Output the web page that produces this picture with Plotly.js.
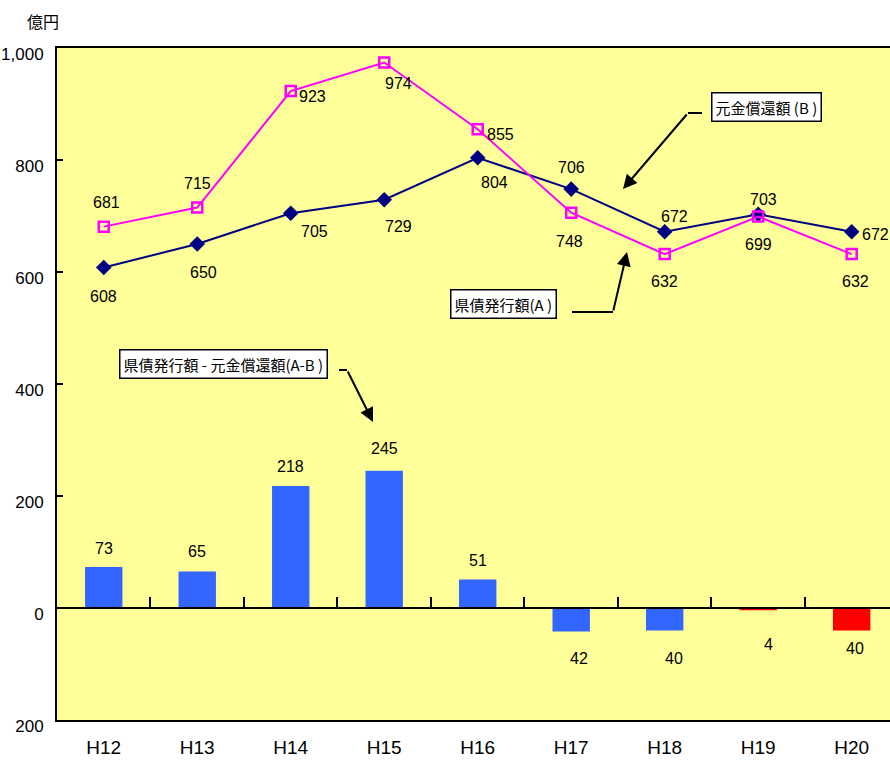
<!DOCTYPE html>
<html>
<head>
<meta charset="utf-8">
<script src="https://cdn.plot.ly/plotly-3.0.1.min.js"></script>
<style>html,body{margin:0;padding:0;background:#fff;}#chart{width:890px;height:761px;}</style>
</head>
<body>
<div id="chart"></div>
<script>
// ---- data ----
const categories = ['H12','H13','H14','H15','H16','H17','H18','H19','H20'];
const issuance   = [681, 715, 923, 974, 855, 706, 632, 699, 632];   // 県債発行額(A)
const repayment  = [608, 650, 705, 729, 804, 748, 672, 703, 672];   // 元金償還額(B)
const difference = [73, 65, 218, 245, 51, -42, -40, -4, -40];       // A-B
const yTickVals  = [-200, 0, 200, 400, 600, 800, 1000];
const yTickText  = ['200', '0', '200', '400', '600', '800', '1,000'];
const unitLabel  = '億円';
const labelA     = '県債発行額(A )';
const labelB     = '元金償還額 (B )';
const labelDiff  = '県債発行額 - 元金償還額(A-B )';

// ---- styles / label placement (pixel offsets) ----
const NUMFONT = '"Liberation Sans", Arial, sans-serif';
const CJKFONT = '"Noto Sans CJK JP", "Noto Sans", sans-serif';
const blue = '#3366FF', red = '#FF0000', navy = '#000080', pink = '#FF00FF';
const barColors = [blue, blue, blue, blue, blue, blue, blue, red, red];
const offA = [[3,24],[0,24],[22,-5],[14,-21],[23,-5],[0,45],[0,-27],[0,-28],[4,-27]];
const offB = [[0,-29],[6,-28],[24,-18],[14,-27],[17,-25],[-2,-52],[10,15],[5,15],[24,-3]];
const offD = [[0,19],[0,20],[0,19],[0,22],[0,19],[8,-27],[9,-28],[10,-34],[3,-18]];

// plot area in px (for callout placement)
const L = 57, R = 890, T = 48, B = 720;
const px = x => (x - L) / (R - L);
const py = y => (B - y) / (B - T);

const traces = [
  {
    type: 'bar', x: categories, y: difference, xaxis: 'x2', yaxis: 'y',
    marker: {color: barColors, line: {width: 0}}, width: 0.40,
    hoverinfo: 'x+y', showlegend: false
  },
  {
    type: 'scatter', mode: 'lines+markers', x: categories, y: repayment,
    line: {color: navy, width: 2},
    marker: {symbol: 'diamond', size: 12, color: navy},
    showlegend: false
  },
  {
    type: 'scatter', mode: 'lines+markers', x: categories, y: issuance,
    line: {color: pink, width: 2},
    marker: {symbol: 'square-open', size: 10, color: pink, line: {width: 2.5, color: pink}},
    showlegend: false
  }
];

const annotations = [];
const numFont = {family: NUMFONT, size: 16, color: '#000'};
const pushLabel = (cat, v, txt, off) => annotations.push({
  x: cat, y: v, xref: 'x', yref: 'y', text: txt, showarrow: false,
  xanchor: 'center', yanchor: 'middle', xshift: off[0], yshift: off[1], font: numFont
});
issuance.forEach((v, i) => pushLabel(categories[i], v, String(v), offA[i]));
repayment.forEach((v, i) => pushLabel(categories[i], v, String(v), offB[i]));
difference.forEach((v, i) => pushLabel(categories[i], v, String(Math.abs(v)), offD[i]));

// unit
annotations.push({xref: 'paper', yref: 'paper', x: px(43), y: py(21), xanchor: 'center', yanchor: 'middle',
  text: unitLabel, showarrow: false, font: {family: CJKFONT, size: 16, color: '#000'}});

// callout boxes
const boxFont = {family: CJKFONT, size: 15, color: '#000'};
[[labelDiff, 223, 364], [labelB, 766, 107], [labelA, 504, 304]].forEach(b => annotations.push({
  xref: 'paper', yref: 'paper', x: px(b[1]), y: py(b[2]), xanchor: 'center', yanchor: 'middle',
  text: b[0], showarrow: false,
  bgcolor: '#FFFFFF', bordercolor: '#000', borderwidth: 1.5, borderpad: 3, font: boxFont
}));

// arrows (tip in paper coords, tail offset in px)
[[373, 422, -26, -52], [623, 189, 65, -76], [627, 252, -14, 60]].forEach(a => annotations.push({
  xref: 'paper', yref: 'paper', x: px(a[0]), y: py(a[1]), ax: a[2], ay: a[3], text: '',
  showarrow: true, arrowhead: 2, arrowsize: 1.4, arrowwidth: 2, arrowcolor: '#000', standoff: 0
}));

const shapes = [[339, 370, 347, 370], [688, 113, 702, 113], [572, 312, 613, 312]].map(s => ({
  type: 'line', xref: 'paper', yref: 'paper', x0: px(s[0]), y0: py(s[1]), x1: px(s[2]), y1: py(s[3]),
  line: {color: '#000', width: 2}
}));

const xr = [-0.5, 8.41];
const layout = {
  width: 890, height: 761,
  margin: {l: L, r: 890 - R, t: T, b: 761 - B, pad: 0},
  paper_bgcolor: '#FFFFFF', plot_bgcolor: '#FFFF99',
  font: {family: NUMFONT, color: '#000'},
  showlegend: false,
  xaxis: {
    type: 'category', range: xr, showline: true, linecolor: '#000', linewidth: 2, mirror: true,
    ticks: '', showgrid: false, zeroline: false, fixedrange: true,
    tickfont: {family: NUMFONT, size: 19, color: '#000'}, ticklabelstandoff: 9
  },
  xaxis2: {
    type: 'category', range: xr, overlaying: 'x', anchor: 'free', position: 200 / 1200,
    showline: true, linecolor: '#000', linewidth: 2, ticks: 'inside', tickson: 'boundaries',
    ticklen: 10, tickwidth: 2, tickcolor: '#000', showticklabels: false, showgrid: false,
    zeroline: false, fixedrange: true
  },
  yaxis: {
    range: [-200, 1000], tickvals: yTickVals, ticktext: yTickText,
    showline: true, linecolor: '#000', linewidth: 2, ticks: 'inside', ticklen: 6, tickwidth: 2,
    tickcolor: '#000', showgrid: false, zeroline: false, fixedrange: true,
    tickfont: {family: NUMFONT, size: 17, color: '#000'}, ticklabelstandoff: 8, ticklabelshift: 6
  },
  annotations: annotations,
  shapes: shapes
};

Plotly.newPlot('chart', traces, layout, {displayModeBar: false, staticPlot: true});
</script>
</body>
</html>
